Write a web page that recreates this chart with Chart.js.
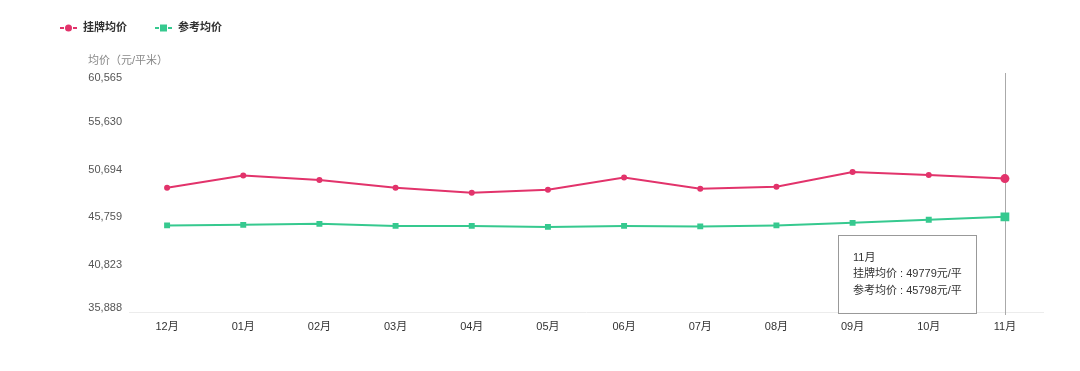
<!DOCTYPE html>
<html>
<head>
<meta charset="utf-8">
<script src="https://cdn.jsdelivr.net/npm/chart.js@4.4.0/dist/chart.umd.min.js"></script>
<style>
  html, body { margin: 0; padding: 0; background: #fff; }
  #wrap { width: 1080px; height: 371px; }
</style>
</head>
<body>
<div id="wrap"><canvas id="myChart" width="1080" height="371"></canvas></div>
<script>
// data
const months = ['12月', '01月', '02月', '03月', '04月', '05月', '06月', '07月', '08月', '09月', '10月', '11月'];
const listingPrice = [48836, 50093, 49622, 48836, 48312, 48626, 49884, 48731, 48941, 50460, 50146, 49779];
const referencePrice = [44907, 44960, 45064, 44855, 44855, 44750, 44855, 44802, 44907, 45169, 45484, 45798];
const yTicks = [35888, 40823, 45759, 50694, 55630, 60565];
const seriesNames = ['挂牌均价', '参考均价'];

const RED = '#e2336b';
const GREEN = '#36c98f';
const FONT = "'Liberation Sans', 'Noto Sans CJK SC', sans-serif";
const last = months.length - 1;

// legend, axis title, crosshair and the fixed tooltip
const extras = {
    id: 'extras',
    beforeDraw(chart) {
        // pull the end labels of the y axis a little inside, like the original
        const items = chart.scales.y.getLabelItems();
        if (items.length && !items._nudged) {
            items[0].options.translation[1] -= 4;
            items[items.length - 1].options.translation[1] += 3;
            items._nudged = true;
        }
    },
    beforeDatasetsDraw(chart) {
        const ctx = chart.ctx;
        const x = chart.scales.x.getPixelForValue(last);
        ctx.save();
        ctx.strokeStyle = '#aaaaaa';
        ctx.lineWidth = 1;
        ctx.beginPath();
        ctx.moveTo(Math.round(x) + 0.5, 73);
        ctx.lineTo(Math.round(x) + 0.5, chart.chartArea.bottom + 3);
        ctx.stroke();
        ctx.restore();
    },
    afterDraw(chart) {
        const ctx = chart.ctx;
        ctx.save();
        // legend
        const items = [
            {x: 60, color: RED, style: 'circle', text: seriesNames[0]},
            {x: 155, color: GREEN, style: 'rect', text: seriesNames[1]}
        ];
        items.forEach(it => {
            ctx.strokeStyle = it.color;
            ctx.fillStyle = it.color;
            ctx.lineWidth = 2;
            ctx.beginPath();
            ctx.moveTo(it.x, 28); ctx.lineTo(it.x + 4, 28);
            ctx.moveTo(it.x + 13, 28); ctx.lineTo(it.x + 17, 28);
            ctx.stroke();
            ctx.beginPath();
            if (it.style === 'circle') {
                ctx.arc(it.x + 8.5, 28, 3.5, 0, Math.PI * 2);
            } else {
                ctx.rect(it.x + 5, 24.5, 7, 7);
            }
            ctx.fill();
            ctx.fillStyle = '#333';
            ctx.font = 'bold 11px ' + FONT;
            ctx.textBaseline = 'middle';
            ctx.fillText(it.text, it.x + 23, 28);
        });
        // y axis title
        ctx.fillStyle = '#888';
        ctx.font = '11px ' + FONT;
        ctx.textBaseline = 'middle';
        ctx.fillText('均价（元/平米）', 88, 61);

        // tooltip box
        const bx = 838.5, by = 235.5, bw = 138, bh = 78;
        ctx.fillStyle = 'rgba(255,255,255,0.92)';
        ctx.fillRect(bx, by, bw, bh);
        ctx.strokeStyle = '#999';
        ctx.lineWidth = 1;
        ctx.strokeRect(bx, by, bw, bh);
        ctx.fillStyle = '#333';
        ctx.font = '11px ' + FONT;
        ctx.fillText(months[last], 853, 258);
        ctx.fillText(seriesNames[0] + ' : ' + listingPrice[last] + '元/平', 853, 274);
        ctx.fillText(seriesNames[1] + ' : ' + referencePrice[last] + '元/平', 853, 291);
        ctx.restore();
    }
};

const radiusRed = months.map((m, i) => i === last ? 4.5 : 3);
const radiusGreen = months.map((m, i) => i === last ? 6.2 : 4.2);

document.addEventListener('DOMContentLoaded', function() {
    const ctx = document.getElementById('myChart').getContext('2d');
    const myChart = new Chart(ctx, {
        type: 'line',
        data: {
            labels: months,
            datasets: [{
                label: seriesNames[0],
                data: listingPrice,
                borderColor: RED,
                backgroundColor: RED,
                borderWidth: 2,
                pointStyle: 'circle',
                pointRadius: radiusRed,
                pointBorderWidth: 0,
                tension: 0
            }, {
                label: seriesNames[1],
                data: referencePrice,
                borderColor: GREEN,
                backgroundColor: GREEN,
                borderWidth: 2,
                pointStyle: 'rect',
                pointRadius: radiusGreen,
                pointBorderWidth: 0,
                tension: 0
            }]
        },
        options: {
            responsive: false,
            animation: false,
            events: [],
            layout: {padding: {left: 80, right: 37, top: 75, bottom: 29}},
            scales: {
                x: {
                    offset: true,
                    grid: {display: false, drawTicks: false},
                    border: {display: true, color: '#ececec', width: 1},
                    afterFit: s => { s.height = 30; },
                    ticks: {
                        padding: 8,
                        color: '#333',
                        font: {family: FONT, size: 11}
                    }
                },
                y: {
                    min: yTicks[0],
                    max: yTicks[yTicks.length - 1],
                    afterBuildTicks: s => { s.ticks = yTicks.map(v => ({value: v})); },
                    afterFit: s => { s.width = 49; },
                    grid: {display: false, drawTicks: false},
                    border: {display: false},
                    ticks: {
                        padding: 7,
                        color: '#555',
                        font: {family: FONT, size: 11},
                        callback: v => v.toLocaleString('en-US')
                    }
                }
            },
            plugins: {
                legend: {display: false},
                title: {display: false},
                tooltip: {enabled: false}
            }
        },
        plugins: [extras]
    });
});
</script>
</body>
</html>
